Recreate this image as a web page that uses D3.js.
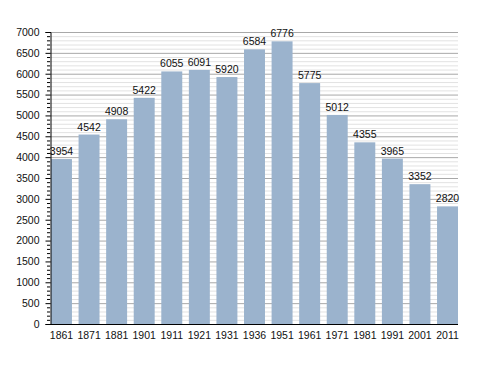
<!DOCTYPE html>
<html>
<head>
<meta charset="utf-8">
<script src="https://cdn.jsdelivr.net/npm/d3@7"></script>
<style>
  body { margin: 0; background: #fff; }
  text { font-family: "Liberation Sans", Arial, sans-serif; }
</style>
</head>
<body>
<svg id="chart" width="488" height="373"></svg>
<script>
// census years and population
const years = ['1861','1871','1881','1901','1911','1921','1931','1936','1951','1961','1971','1981','1991','2001','2011'];
const population = [3954, 4542, 4908, 5422, 6055, 6091, 5920, 6584, 6776, 5775, 5012, 4355, 3965, 3352, 2820];
const majorTicks = d3.range(0, 7001, 500);
const minorTicks = d3.range(0, 7001, 100);

const svg = d3.select('#chart');
const plotLeft = 50, plotRight = 458, plotTop = 32, plotBottom = 324;

const x = d3.scaleBand().domain(years).range([51, 458]).paddingInner(0.24).paddingOuter(0);
const y = d3.scaleLinear().domain([0, 7000]).range([plotBottom, plotTop]);

// minor grid
svg.append('g').selectAll('line')
  .data(minorTicks.filter(d => d % 500 !== 0))
  .enter().append('line')
  .attr('x1', plotLeft).attr('x2', plotRight)
  .attr('y1', d => y(d) + 0.5).attr('y2', d => y(d) + 0.5)
  .attr('stroke', '#e2e2e2').attr('stroke-width', 1);

// major grid
svg.append('g').selectAll('line')
  .data(majorTicks.filter(d => d > 0))
  .enter().append('line')
  .attr('x1', plotLeft).attr('x2', plotRight)
  .attr('y1', d => y(d) + 0.5).attr('y2', d => y(d) + 0.5)
  .attr('stroke', '#a8a8a8').attr('stroke-width', 1);

// bars
svg.append('g').selectAll('rect')
  .data(population)
  .enter().append('rect')
  .attr('x', (d, i) => x(years[i]))
  .attr('y', d => y(d))
  .attr('width', x.bandwidth())
  .attr('height', d => plotBottom - y(d))
  .attr('fill', '#9bb3cd');

// value labels
svg.append('g').selectAll('text')
  .data(population)
  .enter().append('text')
  .attr('x', (d, i) => x(years[i]) + x.bandwidth() / 2)
  .attr('y', d => y(d) - 4)
  .attr('text-anchor', 'middle')
  .attr('font-size', 10.5)
  .attr('fill', '#111')
  .text(d => d);

// y axis with minor ticks
const yAxis = d3.axisLeft(y).tickValues(majorTicks).tickFormat(d3.format('d')).tickSize(5).tickPadding(6);
const gy = svg.append('g').attr('transform', `translate(${plotLeft + 0.5},0)`).call(yAxis);
gy.select('.domain').attr('stroke', '#000');
gy.selectAll('.tick text').attr('font-size', 10.5).attr('fill', '#111').attr('font-family', '"Liberation Sans", Arial, sans-serif');
gy.selectAll('.tick line').attr('stroke', '#000');
svg.append('g').selectAll('line')
  .data(minorTicks.filter(d => d % 500 !== 0))
  .enter().append('line')
  .attr('x1', plotLeft - 3).attr('x2', plotLeft)
  .attr('y1', d => y(d) + 0.5).attr('y2', d => y(d) + 0.5)
  .attr('stroke', '#000');

// x axis
const xAxis = d3.axisBottom(x).tickSize(0).tickPadding(7);
const gx = svg.append('g').attr('transform', `translate(0,${plotBottom + 0.5})`).call(xAxis);
gx.select('.domain').attr('d', `M${plotLeft},0H${plotRight}`).attr('stroke', '#000');
gx.selectAll('.tick text').attr('font-size', 10.5).attr('fill', '#111').attr('font-family', '"Liberation Sans", Arial, sans-serif');
</script>
</body>
</html>
